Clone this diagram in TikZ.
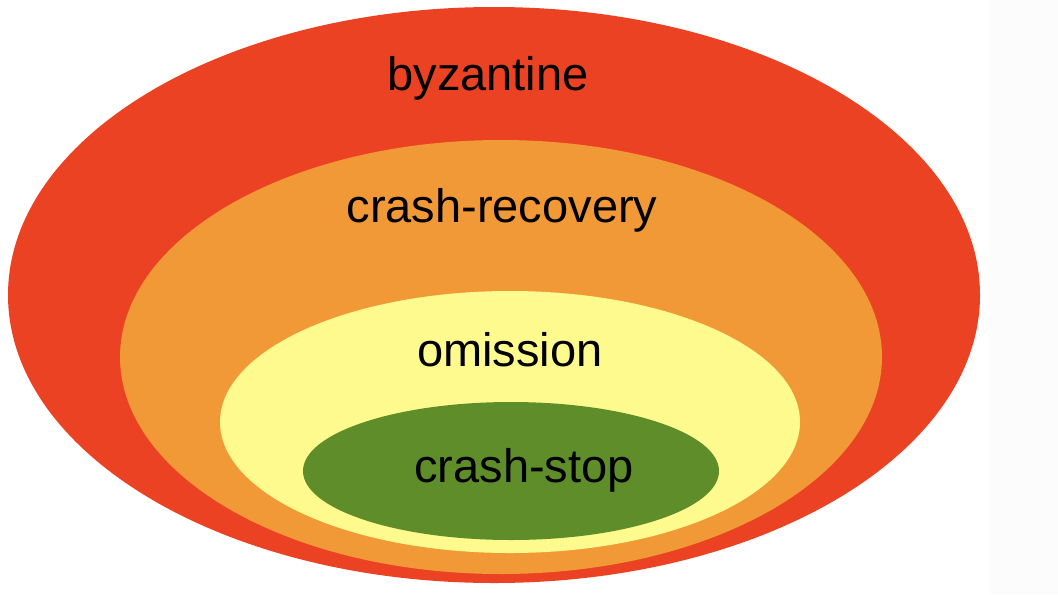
\documentclass[tikz,border=0pt]{standalone}
\usepackage{fontspec}
\setmainfont{Liberation Sans}
\usepackage{xcolor}
\usepackage{tikz}
\usetikzlibrary{positioning}

\definecolor{byzred}{HTML}{EC4224}
\definecolor{recorange}{HTML}{F19937}
\definecolor{omiyellow}{HTML}{FFFA8D}
\definecolor{stopgreen}{HTML}{5E8D2A}
\definecolor{stripgray}{HTML}{FCFCFC}

\begin{document}
\begin{tikzpicture}[x=0.5pt, y=-0.5pt, label/.style={font=\fontsize{23.5}{28}\selectfont, text=black, inner sep=0pt}]
    \useasboundingbox (0,0) rectangle (1058,594);
    \fill [stripgray] (990,0) rectangle (1058,594);

    % nested failure models
    \fill [byzred] (494,295) ellipse [x radius=486, y radius=288];
    \fill [recorange] (501,357) ellipse [x radius=381, y radius=217];
    \fill [omiyellow] (510,422) ellipse [x radius=290, y radius=131];
    \fill [stopgreen] (511,471) ellipse [x radius=208, y radius=69];

    \node [label] (byz) at (488,78) {byzantine};
    \node [label] (rec) at (502,210) {crash-recovery};
    \node [label] (omi) at (510,350) {omission};
    \node [label] (stop) at (524,470) {crash-stop};
\end{tikzpicture}
\end{document}
